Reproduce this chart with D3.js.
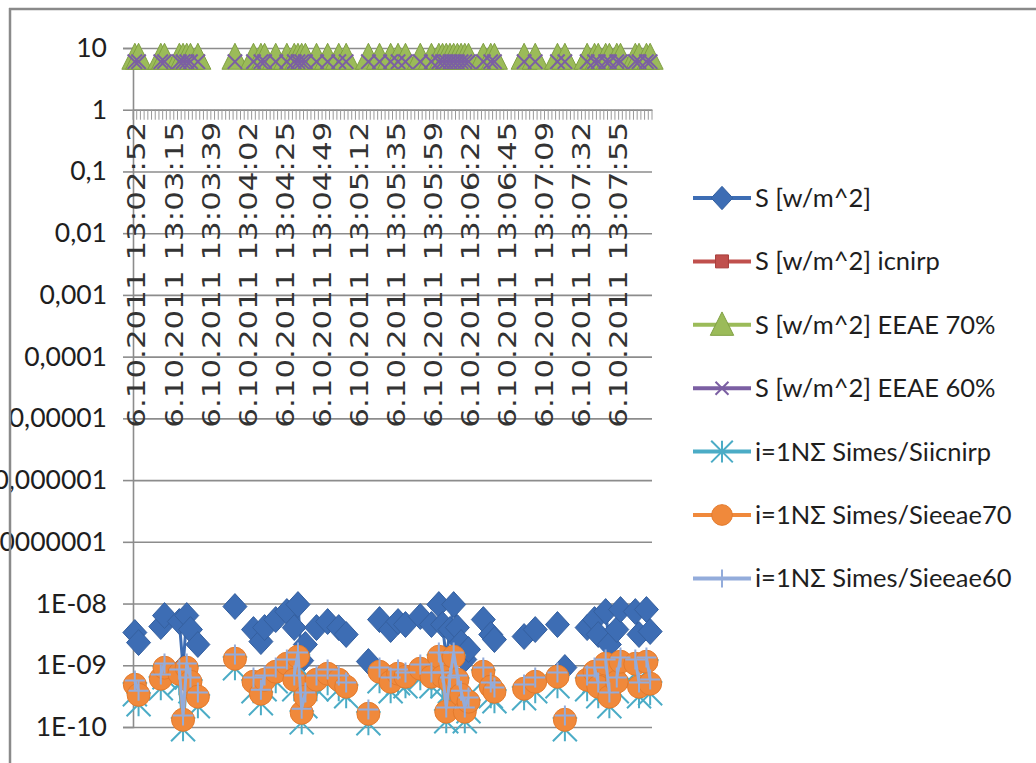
<!DOCTYPE html>
<html>
<head>
<meta charset="utf-8">
<script src="https://cdn.jsdelivr.net/npm/d3@7"></script>
<style>
  html, body { margin: 0; padding: 0; background: #ffffff; }
  svg { display: block; }
</style>
</head>
<body>
<svg id="chart" width="1036" height="763"></svg>
<script>
// Measurement date and sampling times (one category per sample)
const measureDate = "6.10.2011";
const sampleTimes = [
  "13:02:52","13:02:54","13:02:57","13:02:59","13:03:01","13:03:04","13:03:06","13:03:08","13:03:11","13:03:13",
  "13:03:15","13:03:18","13:03:20","13:03:22","13:03:25","13:03:27","13:03:29","13:03:32","13:03:34","13:03:36",
  "13:03:39","13:03:41","13:03:43","13:03:46","13:03:48","13:03:50","13:03:53","13:03:55","13:03:57","13:04:00",
  "13:04:02","13:04:04","13:04:07","13:04:09","13:04:11","13:04:14","13:04:16","13:04:18","13:04:21","13:04:23",
  "13:04:25","13:04:28","13:04:30","13:04:32","13:04:35","13:04:37","13:04:39","13:04:42","13:04:44","13:04:46",
  "13:04:49","13:04:51","13:04:53","13:04:56","13:04:58","13:05:00","13:05:03","13:05:05","13:05:07","13:05:10",
  "13:05:12","13:05:14","13:05:17","13:05:19","13:05:21","13:05:24","13:05:26","13:05:28","13:05:31","13:05:33",
  "13:05:35","13:05:38","13:05:40","13:05:42","13:05:45","13:05:47","13:05:49","13:05:52","13:05:54","13:05:56",
  "13:05:59","13:06:01","13:06:03","13:06:06","13:06:08","13:06:10","13:06:13","13:06:15","13:06:17","13:06:20",
  "13:06:22","13:06:24","13:06:27","13:06:29","13:06:31","13:06:34","13:06:36","13:06:38","13:06:41","13:06:43",
  "13:06:45","13:06:48","13:06:50","13:06:52","13:06:55","13:06:57","13:06:59","13:07:02","13:07:04","13:07:06",
  "13:07:09","13:07:11","13:07:13","13:07:16","13:07:18","13:07:20","13:07:23","13:07:25","13:07:27","13:07:30",
  "13:07:32","13:07:34","13:07:37","13:07:39","13:07:41","13:07:44","13:07:46","13:07:48","13:07:51","13:07:53",
  "13:07:55","13:07:58","13:08:00","13:08:02","13:08:05","13:08:07","13:08:09","13:08:12","13:08:14","13:08:16"
];
const categories = sampleTimes.map(t => measureDate + " " + t);

// Samples that carry a reading (index into categories)
const sampleIndex = [0,1,7,8,12,13,14,15,17,27,32,34,35,38,41,43,44,45,46,49,52,55,57,63,66,69,71,73,77,
  80,82,83,84,85,86,87,88,89,90,94,96,97,105,108,114,116,122,124,125,127,128,130,131,135,136,138,139];

// Power density S [W/m^2] at the samples above
const sMeasured = [3.39e-9,2.33e-9,4.24e-9,6.39e-9,5.11e-9,9.2e-10,6.39e-9,3.79e-9,2.17e-9,8.94e-9,
  3.79e-9,2.42e-9,4.08e-9,5.5e-9,7.42e-9,4.08e-9,9.63e-9,1.19e-9,2.17e-9,4.08e-9,5.11e-9,4.08e-9,3.15e-9,
  1.15e-9,5.5e-9,3.79e-9,5.11e-9,4.57e-9,6.16e-9,
  4.57e-9,9.63e-9,4.57e-9,1.24e-9,3.79e-9,9.63e-9,4.08e-9,2.33e-9,1.24e-9,1.8e-9,5.5e-9,3.15e-9,2.61e-9,
  2.92e-9,3.79e-9,4.57e-9,9.2e-10,4.08e-9,5.5e-9,3.15e-9,7.42e-9,2.17e-9,3.79e-9,8.0e-9,7.42e-9,3.15e-9,8.0e-9,3.52e-9];

// Reference levels
const sIcnirp = [];   // no plotted points
const sEeae70 = [7,7,7,7,7,7,7,7,7,7,7,7,7,7,7,7,7,7,7,7,7,7,7,7,7,7,7,7,7,7,7,7,7,7,7,7,7,7,7,7,7,7,7,7,7,7,7,7,7,7,7,7,7,7,7,7,7];
const sEeae60 = [6,6,6,6,6,6,6,6,6,6,6,6,6,6,6,6,6,6,6,6,6,6,6,6,6,6,6,6,6,6,6,6,6,6,6,6,6,6,6,6,6,6,6,6,6,6,6,6,6,6,6,6,6,6,6,6,6];

// Exposure ratios
const ratioIcnirp = [3.39e-10,2.33e-10,4.24e-10,6.39e-10,5.11e-10,9.2e-11,6.39e-10,3.79e-10,2.17e-10,8.94e-10,
  3.79e-10,2.42e-10,4.08e-10,5.5e-10,7.42e-10,4.08e-10,9.63e-10,1.19e-10,2.17e-10,4.08e-10,5.11e-10,4.08e-10,3.15e-10,
  1.15e-10,5.5e-10,3.79e-10,5.11e-10,4.57e-10,6.16e-10,
  4.57e-10,9.63e-10,4.57e-10,1.24e-10,3.79e-10,9.63e-10,4.08e-10,2.33e-10,1.24e-10,1.8e-10,5.5e-10,3.15e-10,2.61e-10,
  2.92e-10,3.79e-10,4.57e-10,9.2e-11,4.08e-10,5.5e-10,3.15e-10,7.42e-10,2.17e-10,3.79e-10,8.0e-10,7.42e-10,3.15e-10,8.0e-10,3.52e-10];
const ratioEeae70 = [4.84e-10,3.33e-10,6.06e-10,9.13e-10,7.3e-10,1.31e-10,9.13e-10,5.41e-10,3.1e-10,1.277e-9,
  5.41e-10,3.46e-10,5.83e-10,7.86e-10,1.06e-9,5.83e-10,1.376e-9,1.7e-10,3.1e-10,5.83e-10,7.3e-10,5.83e-10,4.5e-10,
  1.64e-10,7.86e-10,5.41e-10,7.3e-10,6.53e-10,8.8e-10,
  6.53e-10,1.376e-9,6.53e-10,1.77e-10,5.41e-10,1.376e-9,5.83e-10,3.33e-10,1.77e-10,2.57e-10,7.86e-10,4.5e-10,3.73e-10,
  4.17e-10,5.41e-10,6.53e-10,1.31e-10,5.83e-10,7.86e-10,4.5e-10,1.06e-9,3.1e-10,5.41e-10,1.143e-9,1.06e-9,4.5e-10,1.143e-9,5.03e-10];
const ratioEeae60 = [5.65e-10,3.88e-10,7.07e-10,1.065e-9,8.52e-10,1.53e-10,1.065e-9,6.32e-10,3.62e-10,1.49e-9,
  6.32e-10,4.03e-10,6.8e-10,9.17e-10,1.237e-9,6.8e-10,1.605e-9,1.98e-10,3.62e-10,6.8e-10,8.52e-10,6.8e-10,5.25e-10,
  1.92e-10,9.17e-10,6.32e-10,8.52e-10,7.62e-10,1.027e-9,
  7.62e-10,1.605e-9,7.62e-10,2.07e-10,6.32e-10,1.605e-9,6.8e-10,3.88e-10,2.07e-10,3.0e-10,9.17e-10,5.25e-10,4.35e-10,
  4.87e-10,6.32e-10,7.62e-10,1.53e-10,6.8e-10,9.17e-10,5.25e-10,1.237e-9,3.62e-10,6.32e-10,1.333e-9,1.237e-9,5.25e-10,1.333e-9,5.87e-10];

// Axis ticks
const yTickValues = [1e-10,1e-9,1e-8,1e-7,1e-6,1e-5,1e-4,1e-3,1e-2,1e-1,1,10];
const yTickLabels = ["1E-10","1E-09","1E-08","0,0000001","0,000001","0,00001","0,0001","0,001","0,01","0,1","1","10"];
const labelEvery = 10;

const seriesNames = ["S [w/m^2]","S [w/m^2] icnirp","S [w/m^2] EEAE 70%","S [w/m^2] EEAE 60%",
  "i=1NΣ Simes/Siicnirp","i=1NΣ Simes/Sieeae70","i=1NΣ Simes/Sieeae60"];
const seriesValues = [sMeasured, sIcnirp, sEeae70, sEeae60, ratioIcnirp, ratioEeae70, ratioEeae60];

const styles = [
  {color:"#3d6db4", stroke:"#35609f", marker:"diamond"},
  {color:"#c0504d", stroke:"#a83f3c", marker:"square"},
  {color:"#9bbb59", stroke:"#80a043", marker:"triangle"},
  {color:"#7b5fa3", stroke:"#7b5fa3", marker:"cross"},
  {color:"#4bacc6", stroke:"#4bacc6", marker:"star"},
  {color:"#f0893b", stroke:"#e37a2c", marker:"circle"},
  {color:"#93acdb", stroke:"#93acdb", marker:"plus"}
];

// Full-length series with gaps where no reading exists
const series = seriesValues.map(vals => {
  const arr = categories.map(() => null);
  vals.forEach((v, k) => { arr[sampleIndex[k]] = v; });
  return arr;
});

const svg = d3.select("#chart");
const plot = {left: 133, right: 652, top: 48, bottom: 727};

const x = d3.scaleBand().domain(d3.range(categories.length)).range([plot.left, plot.right]).padding(0);
const y = d3.scaleLog().domain([1e-10, 10]).range([plot.bottom, plot.top]);
const cx = i => x(i) + x.bandwidth() / 2;

// Chart frame
svg.append("rect").attr("x", 0).attr("y", 0).attr("width", 1036).attr("height", 763).attr("fill", "#ffffff");
svg.append("line").attr("x1", 9).attr("x2", 1036).attr("y1", 9).attr("y2", 9)
  .attr("stroke", "#8a8a8a").attr("stroke-width", 2.5);

// Horizontal gridlines
const gridAxis = d3.axisLeft(y).tickValues(yTickValues)
  .tickSize(-(plot.right - plot.left)).tickFormat("");
svg.append("g").attr("transform", `translate(${plot.left},0)`).call(gridAxis)
  .call(g => g.select(".domain").remove())
  .call(g => g.selectAll(".tick line").attr("stroke", "#8c8c8c").attr("stroke-width", 1.6));

// Value axis with outside ticks
const yAxis = d3.axisLeft(y).tickValues(yTickValues).tickSize(10).tickPadding(16)
  .tickFormat((d, i) => yTickLabels[i]);
svg.append("g").attr("class", "y-axis").attr("transform", `translate(${plot.left},0)`).call(yAxis)
  .call(g => g.select(".domain").attr("stroke", "#8c8c8c").attr("stroke-width", 1.6))
  .call(g => g.selectAll(".tick line").attr("stroke", "#8c8c8c").attr("stroke-width", 1.6))
  .call(g => g.selectAll(".tick text").attr("font-family", "Lato, 'Open Sans', sans-serif")
    .attr("font-size", 26.5).attr("fill", "#1e1e1e"));

// Category axis crossing at 1
const y1 = y(1);
const xAxis = d3.axisBottom(x).tickSize(0).tickFormat("");
svg.append("g").attr("transform", `translate(0,${y1})`).call(xAxis)
  .call(g => g.select(".domain").attr("stroke", "#8c8c8c").attr("stroke-width", 1.6));
const boundaries = d3.range(categories.length + 1).map(i => plot.left + i * x.bandwidth());
svg.append("g").selectAll("line").data(boundaries).join("line")
  .attr("x1", d => d).attr("x2", d => d).attr("y1", y1).attr("y2", y1 + 10)
  .attr("stroke", "#9a9a9a").attr("stroke-width", 1);

const labelIdx = d3.range(categories.length).filter(i => i % labelEvery === 0);
svg.append("g").selectAll("text").data(labelIdx).join("text")
  .attr("transform", i => `translate(${cx(i) + 2},${y1 + 12}) rotate(-90)`)
  .attr("text-anchor", "end").attr("dy", "0.36em")
  .attr("font-family", "'DejaVu Sans', sans-serif").attr("font-size", 24)
  .attr("textLength", 306).attr("lengthAdjust", "spacingAndGlyphs")
  .attr("fill", "#333333")
  .text(i => categories[i]);

// Marker shapes
function markerPath(type, s) {
  switch (type) {
    case "diamond": return `M0,${-s*1.08}L${s},0L0,${s*1.08}L${-s},0Z`;
    case "square": return `M${-s*0.8},${-s*0.8}H${s*0.8}V${s*0.8}H${-s*0.8}Z`;
    case "triangle": return `M0,${-s*1.1}L${s*1.0},${s*0.9}L${-s*1.0},${s*0.9}Z`;
    case "cross": return `M${-s*0.8},${-s*0.8}L${s*0.8},${s*0.8}M${s*0.8},${-s*0.8}L${-s*0.8},${s*0.8}`;
    case "star": return `M${-s},${-s}L${s},${s}M${s},${-s}L${-s},${s}M0,${-s}V${s}`;
    case "plus": return `M${-s},0H${s}M0,${-s}V${s}`;
    default: return "";
  }
}
function drawMarker(g, type, st, s) {
  if (type === "circle") {
    g.append("circle").attr("r", s).attr("fill", st.color).attr("stroke", st.stroke).attr("stroke-width", 1);
  } else if (type === "cross" || type === "star" || type === "plus") {
    g.append("path").attr("d", markerPath(type, s)).attr("fill", "none")
      .attr("stroke", st.color).attr("stroke-width", 2);
  } else {
    g.append("path").attr("d", markerPath(type, s)).attr("fill", st.color)
      .attr("stroke", st.stroke).attr("stroke-width", 1);
  }
}
const markerSize = {diamond: 12, square: 9, triangle: 13, cross: 9, star: 12, circle: 11.5, plus: 10};

// Series lines and markers, drawn in series order
const line = d3.line().defined(d => d != null).x((d, i) => cx(i)).y(d => y(d));
series.forEach((arr, s) => {
  const st = styles[s];
  const g = svg.append("g").attr("class", "series");
  g.append("path").datum(arr).attr("d", line).attr("fill", "none")
    .attr("stroke", st.color).attr("stroke-width", 3).attr("stroke-linejoin", "round");
  arr.forEach((v, i) => {
    if (v == null) return;
    const m = g.append("g").attr("transform", `translate(${cx(i)},${y(v)})`);
    drawMarker(m, st.marker, st, markerSize[st.marker]);
  });
});

// Legend
const legend = svg.append("g");
const legendY = d3.range(seriesNames.length).map(i => 198 + i * 63.4);
seriesNames.forEach((name, i) => {
  const st = styles[i];
  const ly = legendY[i];
  legend.append("line").attr("x1", 693).attr("x2", 751).attr("y1", ly).attr("y2", ly)
    .attr("stroke", st.color).attr("stroke-width", 4);
  const m = legend.append("g").attr("transform", `translate(722,${ly})`);
  drawMarker(m, st.marker, st, markerSize[st.marker] * 0.9);
  legend.append("text").attr("x", 755).attr("y", ly).attr("dy", "0.35em")
    .attr("font-family", "Lato, 'Open Sans', sans-serif").attr("font-size", 25.5)
    .attr("fill", "#1e1e1e").text(name);
});

// Left frame edge, drawn over the axis labels it crosses
svg.append("line").attr("x1", 10).attr("x2", 10).attr("y1", 8).attr("y2", 763)
  .attr("stroke", "#8a8a8a").attr("stroke-width", 2.5);
</script>
</body>
</html>
